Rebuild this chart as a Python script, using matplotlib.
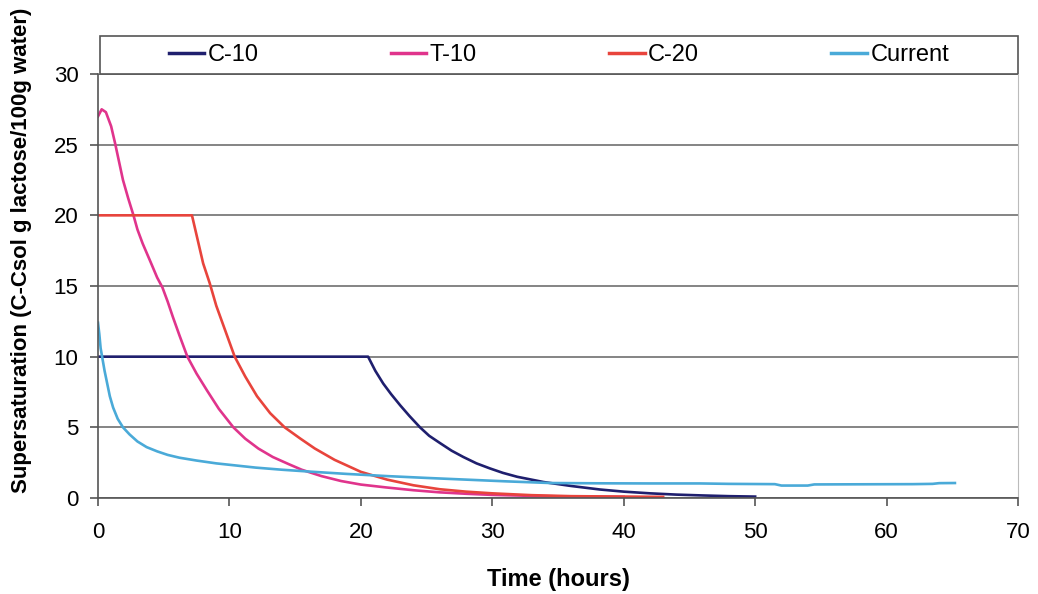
import matplotlib.pyplot as plt
from matplotlib.patches import Rectangle

plt.rcParams['font.family'] = ['Liberation Sans', 'DejaVu Sans']

# C-10 series
c10_t = [0, 10, 20.55, 21.1, 21.7, 22.3, 23.0, 23.7, 24.5, 25.2, 26.0, 26.9, 27.8, 28.8, 29.8,
         30.8, 31.9, 33.9, 36, 38.2, 40, 42, 44, 46, 48, 50]
c10_y = [10, 10, 10, 9.0, 8.1, 7.35, 6.55, 5.8, 5.0, 4.4, 3.9, 3.35, 2.9, 2.45, 2.1,
         1.78, 1.5, 1.13, 0.85, 0.6, 0.45, 0.33, 0.24, 0.18, 0.13, 0.1]

# T-10 series
t10_t = [0, 0.28, 0.6, 1.0, 1.3, 1.6, 1.9, 2.3, 2.7, 3.0, 3.4, 4.0, 4.5, 4.9, 5.3, 5.7, 6.2,
         6.8, 7.5, 8.3, 9.2, 10.3, 11.2, 12.2, 13.3, 14.5, 15.5, 17, 18.5, 20, 21.9, 24, 26,
         28, 30, 33, 36, 40]
t10_y = [27.0, 27.5, 27.3, 26.3, 25.1, 23.8, 22.5, 21.2, 20.0, 19.0, 18.0, 16.7, 15.6, 14.9,
         13.9, 12.8, 11.5, 10.0, 8.8, 7.6, 6.3, 5.0, 4.2, 3.5, 2.9, 2.4, 2.0, 1.55, 1.2, 0.95,
         0.75, 0.55, 0.4, 0.3, 0.22, 0.15, 0.1, 0.08]

# C-20 series
c20_t = [0, 7.15, 7.6, 8.0, 8.5, 9.0, 9.7, 10.4, 11.2, 12.1, 13.1, 14.2, 15.4, 16.5, 18, 20,
         22, 24, 26, 28, 30, 33, 36, 40, 43]
c20_y = [20, 20, 18.2, 16.6, 15.2, 13.6, 11.8, 10.0, 8.6, 7.2, 6.0, 5.0, 4.2, 3.5, 2.7, 1.85,
         1.3, 0.9, 0.62, 0.45, 0.33, 0.2, 0.13, 0.1, 0.08]

# Current series
cur_t = [0, 0.1, 0.2, 0.35, 0.5, 0.7, 0.9, 1.15, 1.5, 1.9, 2.4, 3.0, 3.7, 4.5, 5.3, 6.2, 7.5,
         9, 10.5, 12, 14, 16.4, 19, 22, 25, 28, 31, 34.4, 38, 42, 45.8, 48, 51.5, 52, 54,
         54.5, 58, 62, 63.5, 64, 65.2]
cur_y = [12.4, 11.6, 10.6, 9.8, 9.0, 8.1, 7.2, 6.4, 5.6, 5.0, 4.5, 4.0, 3.6, 3.3, 3.05, 2.85,
         2.65, 2.45, 2.3, 2.15, 2.0, 1.85, 1.7, 1.55, 1.42, 1.3, 1.18, 1.06, 1.04, 1.03, 1.03,
         1.0, 0.98, 0.88, 0.88, 0.96, 0.97, 0.98, 1.0, 1.05, 1.06]

fig = plt.figure(figsize=(10.38, 5.94), dpi=100)
ax = fig.add_axes([98 / 1038, 1 - 498 / 594, 920 / 1038, 424 / 594])

ax.plot(c10_t, c10_y, color='#1f1f6e', lw=1.9, label='C-10')
ax.plot(t10_t, t10_y, color='#e0348c', lw=1.9, label='T-10')
ax.plot(c20_t, c20_y, color='#e8443c', lw=1.9, label='C-20')
ax.plot(cur_t, cur_y, color='#4aaad8', lw=1.9, label='Current')

ax.set_xlim(0, 70)
ax.set_ylim(0, 30)
ax.set_xticks(range(0, 71, 10))
ax.set_yticks(range(0, 31, 5))
ax.yaxis.grid(True, color='#707070', lw=1.2)
ax.set_axisbelow(True)
ax.tick_params(direction='out', length=6, width=1.2, color='#555555', labelsize=16)
ax.tick_params(axis='x', pad=11)
ax.tick_params(axis='y', pad=8)
for s in ['left', 'bottom']:
    ax.spines[s].set_color('#555555')
    ax.spines[s].set_linewidth(1.2)
ax.spines['top'].set_visible(False)
ax.spines['right'].set_color('#bbbbbb')

ax.set_xlabel('Time (hours)', fontsize=17, fontweight='bold', labelpad=18)
ax.set_ylabel('Supersaturation (C-Csol g lactose/100g water)', fontsize=16,
              fontweight='bold')
ax.yaxis.set_label_coords(-0.072, 0.585)

# legend box above the plot
ax.add_patch(Rectangle((0.002, 1.0), 0.998, 0.0896, transform=ax.transAxes, fill=False,
                       edgecolor='#555555', lw=1.2, clip_on=False))
leg = ax.legend(loc='center', bbox_to_anchor=(0.501, 1.0448), ncol=4, frameon=False,
                fontsize=17, handlelength=1.5, handletextpad=0.15, columnspacing=5.6,
                borderaxespad=0)
for h in leg.get_lines():
    h.set_linewidth(2.5)

fig.savefig('out.png', dpi=100)
